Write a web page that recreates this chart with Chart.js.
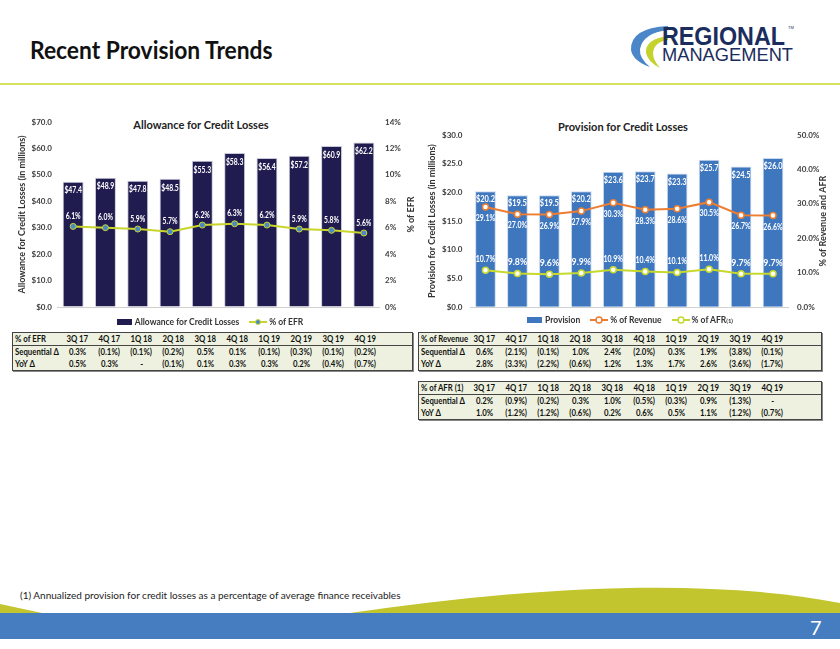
<!DOCTYPE html>
<html>
<head>
<meta charset="utf-8">
<script src="https://cdn.jsdelivr.net/npm/chart.js@4.4.1/dist/chart.umd.min.js"></script>
<style>
  body { margin: 0; background: #fff; font-family: Lato, "Noto Sans", sans-serif; }
  #page { position: relative; width: 840px; height: 649px; overflow: hidden; background: #fff; }
  .abs { position: absolute; }
  #pageTitle { left: 30px; top: 36px; font-size: 24px; font-weight: bold; color: #111; line-height: 28px; transform: scaleX(0.95); transform-origin: left; white-space: nowrap; }
  #rule { left: 0; top: 83px; width: 840px; height: 2px; background: #d8e15e; }
  .ctitle { font-size: 11px; font-weight: bold; color: #222; white-space: nowrap; transform: translateX(-50%); }
  .legend { display: flex; justify-content: center; align-items: center; font-size: 8.5px; font-weight: bold; color: #333; white-space: nowrap; }
  .legend span.item { display: inline-flex; align-items: center; margin: 0 5px; }
  .legend .box { display: inline-block; width: 15px; height: 6px; margin-right: 3px; }
  .legend svg { margin-right: 2px; }
  table.stats { position: absolute; border-collapse: collapse; background: #eef1df; border: 1px solid #444; box-shadow: 1px 1px 0 #888; font-size: 9.5px; font-weight: bold; color: #111; table-layout: fixed; }
  table.stats td { padding: 0; height: 12px; line-height: 12px; text-align: center; white-space: nowrap; overflow: visible; }
  table.stats td span { display: inline-block; transform: scaleX(0.82); }
  table.stats td.lab { text-align: left; padding-left: 2px; }
  table.stats td.lab span { transform-origin: left; }
  table.stats tr.head td { border-bottom: 1px solid #444; }
  #foot { left: 20px; top: 589px; font-size: 10px; color: #222; white-space: nowrap; }
</style>
</head>
<body>
<div id="page">
  <div id="pageTitle" class="abs">Recent Provision Trends</div>
  <div id="rule" class="abs"></div>

  <svg class="abs" style="left:0;top:0" width="840" height="84">
    <path d="M668 26 Q630 28 631 50 Q633 61 650 67 Q639 58 640 49 Q643 33 668 30 Z" fill="#4a86c8"/>
    <path d="M668 36 Q645 39 646 53 Q648 62 660 68 Q653 60 653 53 Q654 42 668 40 Z" fill="#c3d22d"/>
    <text x="662" y="45" font-family="Liberation Sans, Arial, sans-serif" font-weight="bold" font-size="25" fill="#1b2d5c" textLength="123" lengthAdjust="spacingAndGlyphs">REGIONAL</text>
    <text x="788" y="29" font-family="Liberation Sans, Arial, sans-serif" font-size="4" fill="#1b2d5c">TM</text>
    <text x="662" y="61" font-family="Liberation Sans, Arial, sans-serif" font-size="18" fill="#1b2d5c" textLength="131" lengthAdjust="spacingAndGlyphs">MANAGEMENT</text>
  </svg>

  <div class="abs ctitle" style="left:201px;top:118px">Allowance for Credit Losses</div>
  <div class="abs ctitle" style="left:623px;top:120px">Provision for Credit Losses</div>

  <canvas id="leftChart" class="abs" style="left:0;top:110px" width="420" height="210"></canvas>
  <canvas id="rightChart" class="abs" style="left:420px;top:120px" width="420" height="200"></canvas>

  <div class="abs legend" style="left:0;top:316px;width:420px;height:12px">
    <span class="item"><span class="box" style="background:#201c50"></span>Allowance for Credit Losses</span>
    <span class="item"><svg width="18" height="8"><line x1="0" y1="4" x2="18" y2="4" stroke="#c9d52c" stroke-width="2"/><circle cx="9" cy="4" r="2.5" fill="#4a8ac4" stroke="#c9d52c" stroke-width="1"/></svg>% of EFR</span>
  </div>
  <div class="abs legend" style="left:420px;top:314px;width:420px;height:12px">
    <span class="item"><span class="box" style="background:#3f77bf"></span>Provision</span>
    <span class="item"><svg width="18" height="8"><line x1="0" y1="4" x2="18" y2="4" stroke="#ed7d31" stroke-width="2"/><circle cx="9" cy="4" r="3" fill="#fff" stroke="#ed7d31" stroke-width="1.5"/></svg>% of Revenue</span>
    <span class="item"><svg width="18" height="8"><line x1="0" y1="4" x2="18" y2="4" stroke="#c6d92c" stroke-width="2"/><circle cx="9" cy="4" r="3" fill="#fff" stroke="#c6d92c" stroke-width="1.5"/></svg>% of AFR<sup style="font-size:6px">(1)</sup></span>
  </div>

  <table id="tEfr" class="stats" style="left:12px;top:332px;width:401px"></table>
  <table id="tRev" class="stats" style="left:418px;top:332px;width:404px"></table>
  <table id="tAfr" class="stats" style="left:418px;top:381px;width:404px"></table>

  <div id="foot" class="abs">(1) Annualized provision for credit losses as a percentage of average finance receivables</div>
  <svg class="abs" style="left:0;top:570px" width="840" height="79">
    <path d="M350 43 C520 18 700 6 840 33 L840 43 Z" fill="#c2c52d"/>
    <polygon points="0,34 42,43 0,43" fill="#c2c52d"/>
    <rect x="0" y="43" width="840" height="26" fill="#467cc0"/>
    <text x="810" y="65" font-family="Lato, sans-serif" font-size="20" fill="#fff">7</text>
  </svg>
</div>

<script>
const quarters = ['3Q 17', '4Q 17', '1Q 18', '2Q 18', '3Q 18', '4Q 18', '1Q 19', '2Q 19', '3Q 19', '4Q 19'];

// allowance chart ($M) and % of EFR
const allowance = [47.4, 48.9, 47.8, 48.5, 55.3, 58.3, 56.4, 57.2, 60.9, 62.2];
const efrPct = [6.1, 6.0, 5.9, 5.7, 6.2, 6.3, 6.2, 5.9, 5.8, 5.6];

// provision chart ($M), % of revenue, % of AFR
const provision = [20.2, 19.5, 19.5, 20.2, 23.6, 23.7, 23.3, 25.7, 24.5, 26.0];
const revenuePct = [29.1, 27.0, 26.9, 27.9, 30.3, 28.3, 28.6, 30.5, 26.7, 26.6];
const afrPct = [10.7, 9.8, 9.6, 9.9, 10.9, 10.4, 10.1, 11.0, 9.7, 9.7];

// table rows
const efrSeq = ['0.3%', '(0.1%)', '(0.1%)', '(0.2%)', '0.5%', '0.1%', '(0.1%)', '(0.3%)', '(0.1%)', '(0.2%)'];
const efrYoy = ['0.5%', '0.3%', '-', '(0.1%)', '0.1%', '0.3%', '0.3%', '0.2%', '(0.4%)', '(0.7%)'];
const revSeq = ['0.6%', '(2.1%)', '(0.1%)', '1.0%', '2.4%', '(2.0%)', '0.3%', '1.9%', '(3.8%)', '(0.1%)'];
const revYoy = ['2.8%', '(3.3%)', '(2.2%)', '(0.6%)', '1.2%', '1.3%', '1.7%', '2.6%', '(3.6%)', '(1.7%)'];
const afrSeq = ['0.2%', '(0.9%)', '(0.2%)', '0.3%', '1.0%', '(0.5%)', '(0.3%)', '0.9%', '(1.3%)', '-'];
const afrYoy = ['1.0%', '(1.2%)', '(1.2%)', '(0.6%)', '0.2%', '0.6%', '0.5%', '1.1%', '(1.2%)', '(0.7%)'];

function buildTable(id, title, seq, yoy, labW, colW) {
    const t = document.getElementById(id);
    let html = '<colgroup><col style="width:' + labW + 'px">';
    quarters.forEach(() => { html += '<col style="width:' + colW + 'px">'; });
    html += '<col></colgroup>';
    const row = (cls, lab, vals) => '<tr class="' + cls + '"><td class="lab"><span>' + lab + '</span></td>' +
        vals.map(v => '<td><span>' + v + '</span></td>').join('') + '<td></td></tr>';
    html += row('head', title, quarters);
    html += row('', 'Sequential \u0394', seq);
    html += row('', 'YoY \u0394', yoy);
    t.innerHTML = html;
}
buildTable('tEfr', '% of EFR', efrSeq, efrYoy, 49, 32);
buildTable('tRev', '% of Revenue', revSeq, revYoy, 50, 32);
buildTable('tAfr', '% of AFR (1)', afrSeq, afrYoy, 50, 32);

// white value labels on bars and line points
const valueLabels = {
    id: 'valueLabels',
    afterDatasetsDraw(chart) {
        const ctx = chart.ctx;
        chart.data.datasets.forEach((ds, i) => {
            const lab = ds.valueLabel;
            if (!lab) return;
            const meta = chart.getDatasetMeta(i);
            ctx.save();
            ctx.font = 'bold ' + lab.size + 'px Lato';
            ctx.fillStyle = '#fff';
            ctx.textAlign = 'center';
            ctx.textBaseline = 'middle';
            meta.data.forEach((el, j) => {
                const v = ds.data[j];
                const txt = lab.money ? '$' + v.toFixed(1) : v.toFixed(1) + '%';
                ctx.fillText(txt, el.x, el.y + lab.dy, lab.maxW);
            });
            ctx.restore();
        });
    }
};

// right axis title, reading bottom to top
function sideTitle(text, x) {
    return {
        id: 'sideTitle',
        afterDraw(chart) {
            const ctx = chart.ctx, a = chart.chartArea;
            ctx.save();
            ctx.translate(x, (a.top + a.bottom) / 2);
            ctx.rotate(-Math.PI / 2);
            ctx.font = 'bold 9px Lato';
            ctx.fillStyle = '#333';
            ctx.textAlign = 'center';
            ctx.textBaseline = 'middle';
            ctx.fillText(text, 0, 0);
            ctx.restore();
        }
    };
}

const tickFont = { family: 'Lato', size: 8, weight: 'bold' };
const baseGrid = {
    drawTicks: false,
    color: c => c.tick && c.tick.value === 0 ? '#d0d0d0' : 'rgba(0,0,0,0)'
};
const noGrid = { display: false, drawTicks: false };

new Chart(document.getElementById('leftChart'), {
    type: 'bar',
    data: {
        labels: quarters,
        datasets: [{
            type: 'line',
            label: '% of EFR',
            data: efrPct,
            yAxisID: 'y1',
            borderColor: '#c9d52c',
            borderWidth: 2,
            pointRadius: 3,
            pointBackgroundColor: '#4a8ac4',
            pointBorderColor: '#c9d52c',
            pointBorderWidth: 1,
            tension: 0,
            order: 1,
            valueLabel: { size: 8.5, dy: -10, maxW: 15 }
        }, {
            label: 'Allowance for Credit Losses',
            data: allowance,
            yAxisID: 'y',
            backgroundColor: '#201c50',
            borderColor: '#c8c8d8',
            borderWidth: { left: 1, right: 1, top: 1, bottom: 0 },
            barPercentage: 0.9,
            categoryPercentage: 0.72,
            order: 2,
            valueLabel: { size: 8.5, money: true, dy: 9, maxW: 17.5 }
        }]
    },
    options: {
        responsive: false,
        animation: false,
        layout: { padding: { top: 12, bottom: 13, left: 0, right: 0 } },
        plugins: { legend: { display: false }, tooltip: { enabled: false } },
        scales: {
            x: { display: false },
            y: {
                position: 'left', min: 0, max: 70,
                ticks: { stepSize: 10, padding: 5, color: '#404040', font: tickFont, callback: v => '$' + v.toFixed(1) },
                grid: baseGrid, border: { display: false },
                title: { display: true, text: 'Allowance for Credit Losses (in millions)', color: '#333', font: { family: 'Lato', size: 9, weight: 'bold' }, padding: { top: 17, bottom: 0 } },
                afterFit: s => { s.width = 57; }
            },
            y1: {
                position: 'right', min: 0, max: 14,
                ticks: { stepSize: 2, padding: 5, color: '#404040', font: tickFont, callback: v => v + '%' },
                grid: noGrid, border: { display: false },
                afterFit: s => { s.width = 40; }
            }
        }
    },
    plugins: [valueLabels, sideTitle('% of EFR', 411)]
});

new Chart(document.getElementById('rightChart'), {
    type: 'bar',
    data: {
        labels: quarters,
        datasets: [{
            type: 'line',
            label: '% of Revenue',
            data: revenuePct,
            yAxisID: 'y1',
            borderColor: '#ed7d31',
            borderWidth: 2,
            pointRadius: 3,
            pointBackgroundColor: '#fff',
            pointBorderColor: '#ed7d31',
            pointBorderWidth: 1.5,
            tension: 0,
            order: 1,
            valueLabel: { size: 9.5, dy: 11, maxW: 19.5 }
        }, {
            type: 'line',
            label: '% of AFR',
            data: afrPct,
            yAxisID: 'y1',
            borderColor: '#c6d92c',
            borderWidth: 2,
            pointRadius: 3,
            pointBackgroundColor: '#fff',
            pointBorderColor: '#c6d92c',
            pointBorderWidth: 1.5,
            tension: 0,
            order: 1,
            valueLabel: { size: 9, dy: -11, maxW: 19.5 }
        }, {
            label: 'Provision',
            data: provision,
            yAxisID: 'y',
            backgroundColor: '#3f77bf',
            borderColor: '#c9d9ee',
            borderWidth: { left: 1, right: 1, top: 1, bottom: 0 },
            barPercentage: 0.9,
            categoryPercentage: 0.72,
            order: 2,
            valueLabel: { size: 9.5, money: true, dy: 8, maxW: 19 }
        }]
    },
    options: {
        responsive: false,
        animation: false,
        layout: { padding: { top: 15, bottom: 10, left: 0, right: 0 } },
        plugins: { legend: { display: false }, tooltip: { enabled: false } },
        scales: {
            x: { display: false },
            y: {
                position: 'left', min: 0, max: 30,
                ticks: { stepSize: 5, padding: 7, color: '#404040', font: tickFont, callback: v => '$' + v.toFixed(1) },
                grid: baseGrid, border: { display: false },
                title: { display: true, text: 'Provision for Credit Losses (in millions)', color: '#333', font: { family: 'Lato', size: 9, weight: 'bold' }, padding: { top: 7, bottom: 0 } },
                afterFit: s => { s.width = 49.5; }
            },
            y1: {
                position: 'right', min: 0, max: 50,
                ticks: { stepSize: 10, padding: 8, color: '#404040', font: tickFont, callback: v => v.toFixed(1) + '%' },
                grid: noGrid, border: { display: false },
                afterFit: s => { s.width = 51; }
            }
        }
    },
    plugins: [valueLabels, sideTitle('% of Revenue and AFR', 403)]
});
</script>
</body>
</html>
